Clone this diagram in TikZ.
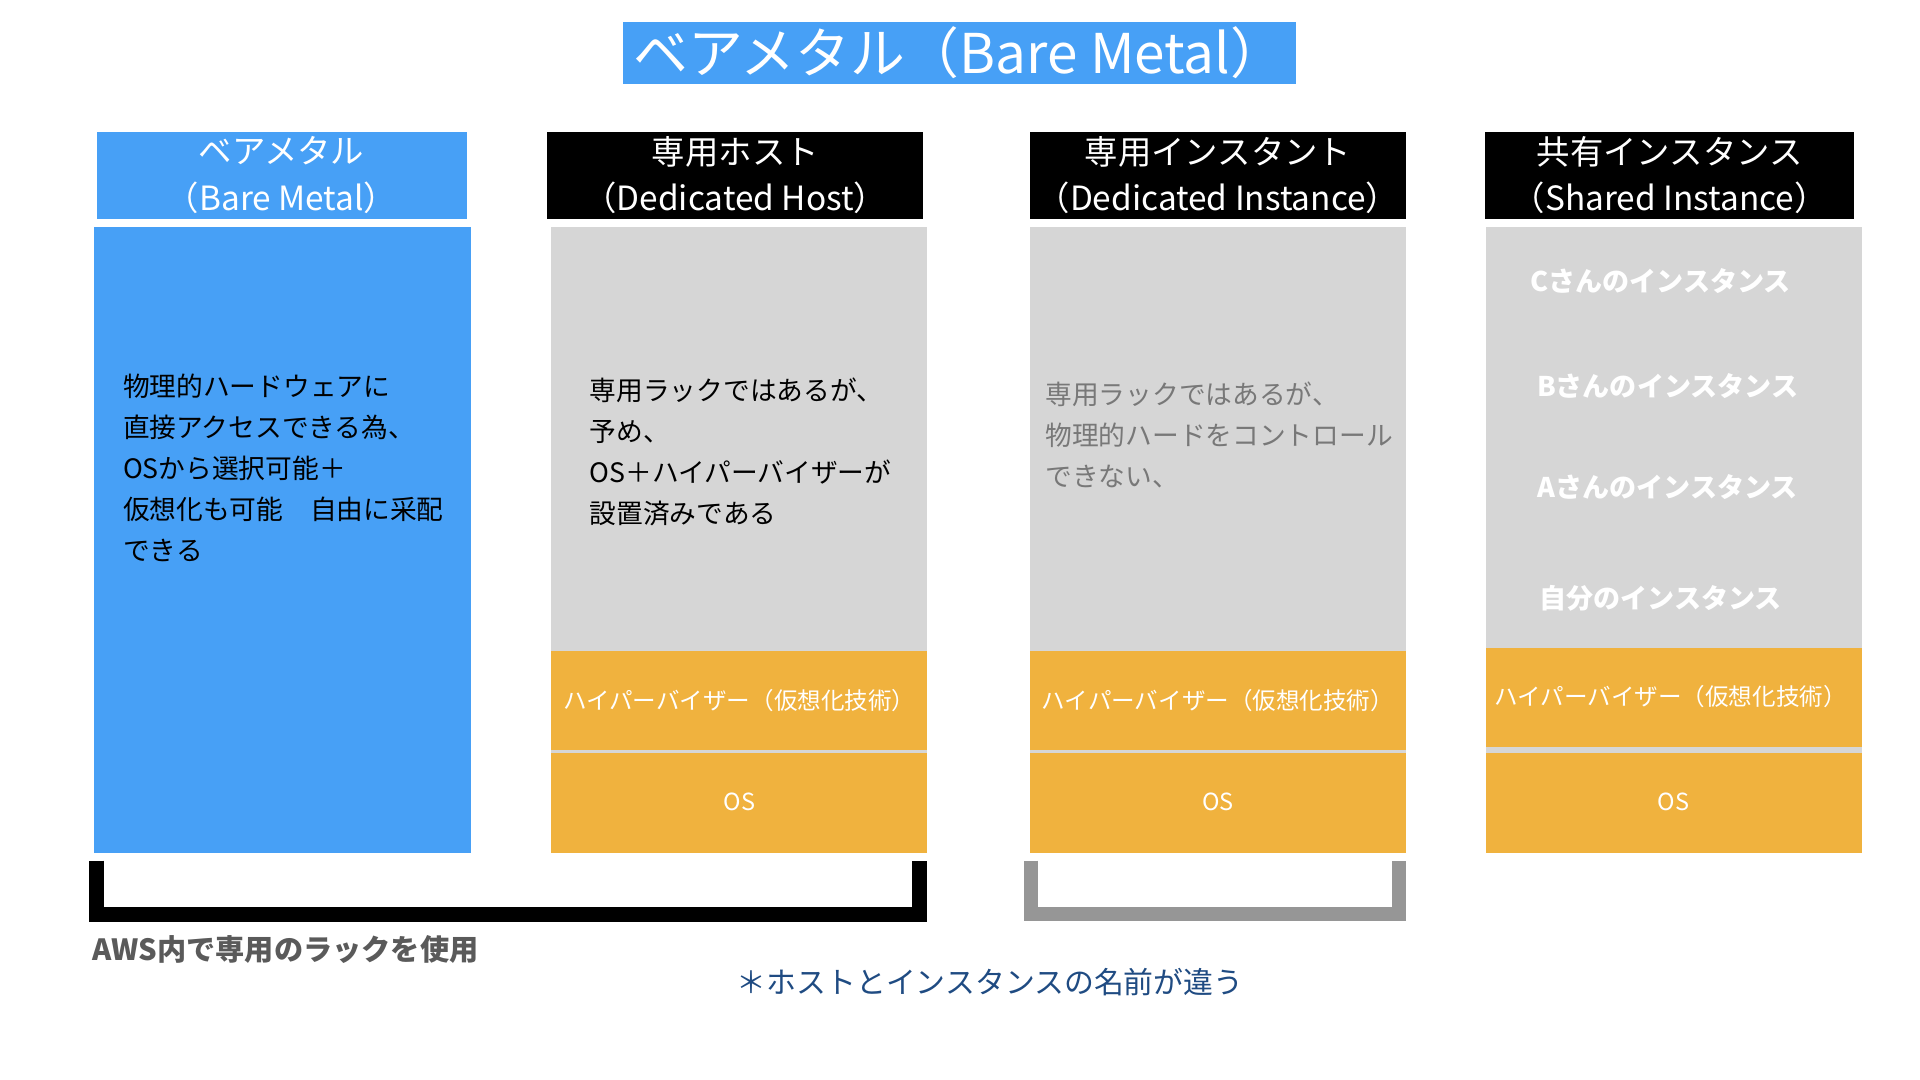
\documentclass[tikz,border=0pt]{standalone}
\usepackage{fontspec}
\setmainfont{Noto Sans CJK JP}
\usepackage{tikz}
\usetikzlibrary{positioning}

\definecolor{bmblue}{RGB}{71,160,246}
\definecolor{rackgray}{RGB}{214,214,214}
\definecolor{hvorange}{RGB}{240,178,62}
\definecolor{softtext}{RGB}{120,120,120}
\definecolor{bracketgray}{RGB}{150,150,150}
\definecolor{awsgray}{RGB}{90,90,90}
\definecolor{noteblue}{RGB}{31,75,130}

\tikzset{
  headtext/.style={white, align=center, inner sep=0pt, font=\fontsize{9.5}{13.2}\selectfont},
  bodytext/.style={anchor=west, align=left, inner sep=0pt, font=\fontsize{7.6}{11.7}\selectfont},
  layertext/.style={white, inner sep=0pt, font=\fontsize{6.7}{8}\selectfont},
  guesttext/.style={white, inner sep=0pt, font=\bfseries\fontsize{7.7}{9}\selectfont}
}

\begin{document}
\begin{tikzpicture}[x=0.00995cm, y=-0.00995cm]
    \useasboundingbox (0,0) rectangle (1929.6,1085.4);

    % Title
    \fill[bmblue] (626,22) rectangle (1302,84);
    \node[white, inner sep=0pt, font=\fontsize{15.6}{17}\selectfont] (title) at (964,53) {ベアメタル（Bare Metal）};

    % Bare metal column
    \fill[bmblue] (97,133) rectangle (469,220);
    \node[headtext] (headBM) at (283,176) {ベアメタル\\（Bare Metal）};
    \fill[bmblue] (94,228) rectangle (473,857);
    \node[bodytext] (textBM) at (123,470) {物理的ハードウェアに\\直接アクセスできる為、\\OSから選択可能＋\\仮想化も可能　自由に采配\\できる};

    % Dedicated host column
    \fill[black] (550,133) rectangle (928,220);
    \node[headtext] (headDH) at (739,176) {専用ホスト\\（Dedicated Host）};
    \fill[rackgray] (554,228) rectangle (932,857);
    \node[bodytext] (textDH) at (592,454) {専用ラックではあるが、\\予め、\\OS＋ハイパーバイザーが\\設置済みである};

    % Dedicated instance column
    \fill[black] (1035,133) rectangle (1413,220);
    \node[headtext] (headDI) at (1224,176) {専用インスタント\\（Dedicated Instance）};
    \fill[rackgray] (1035,228) rectangle (1413,857);
    \node[bodytext, softtext] (textDI) at (1050,437) {専用ラックではあるが、\\物理的ハードをコントロール\\できない、};

    % Shared instance column
    \fill[black] (1492,133) rectangle (1863,220);
    \node[headtext] (headSI) at (1678,176) {共有インスタンス\\（Shared Instance）};
    \fill[rackgray] (1493,228) rectangle (1871,857);
    \node[guesttext] (guestC) at (1669,282) {Cさんのインスタンス};
    \node[guesttext] (guestB) at (1676,388) {Bさんのインスタンス};
    \node[guesttext] (guestA) at (1676,489) {Aさんのインスタンス};
    \node[guesttext] (guestMe) at (1669,601) {自分のインスタンス};

    % Hypervisor and OS layers
    \fill[hvorange] (554,654) rectangle (932,754);
    \fill[hvorange] (554,757) rectangle (932,857);
    \node[layertext] (hvDH) at (743,704) {ハイパーバイザー（仮想化技術）};
    \node[layertext] (osDH) at (743,806) {OS};
    \fill[hvorange] (1035,654) rectangle (1413,754);
    \fill[hvorange] (1035,757) rectangle (1413,857);
    \node[layertext] (hvDI) at (1224,704) {ハイパーバイザー（仮想化技術）};
    \node[layertext] (osDI) at (1224,806) {OS};
    \fill[hvorange] (1493,651) rectangle (1871,751);
    \fill[hvorange] (1493,757) rectangle (1871,857);
    \node[layertext] (hvSI) at (1679,700) {ハイパーバイザー（仮想化技術）};
    \node[layertext] (osSI) at (1682,806) {OS};

    % Brackets
    \draw[line width=0.15cm] (96.5,865) -- (96.5,919) -- (924.5,919) -- (924.5,865);
    \draw[bracketgray, line width=0.14cm] (1036,865) -- (1036,919) -- (1406,919) -- (1406,865);
    \node[awsgray, anchor=west, inner sep=0pt, font=\bfseries\fontsize{8.3}{10}\selectfont] (rackNote) at (92,954) {AWS内で専用のラックを使用};
    \node[noteblue, inner sep=0pt, font=\fontsize{8.5}{10}\selectfont] (nameNote) at (995,987) {＊ホストとインスタンスの名前が違う};
\end{tikzpicture}
\end{document}
